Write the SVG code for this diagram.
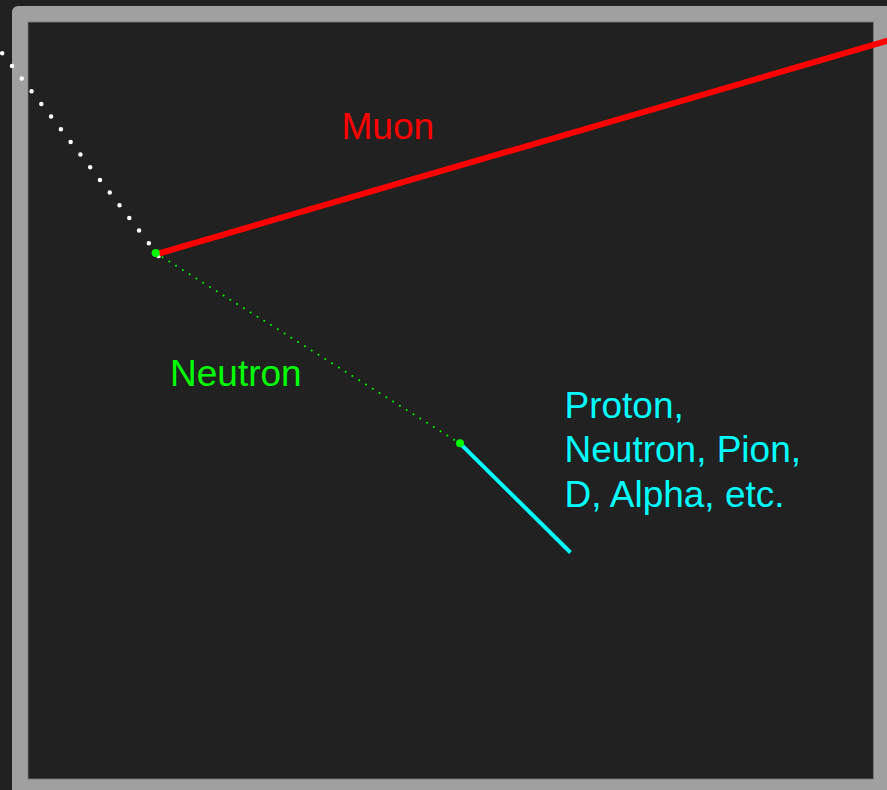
<svg xmlns="http://www.w3.org/2000/svg" width="887" height="790" viewBox="0 0 887 790">
  <style>
    .lbl { font-family: "Liberation Sans", Arial, sans-serif; font-size: 37px; }
    .dot { stroke-linecap: round; fill: none; }
  </style>
  <rect x="0" y="0" width="887" height="790" fill="#212121"/>
  <g id="frame">
    <rect x="12" y="6" width="880" height="795" rx="6" fill="#a0a0a0"/>
    <rect x="28" y="22" width="845.5" height="757" fill="#212121" stroke="#7a7a7a" stroke-width="0.8"/>
  </g>
  <g id="connectors">
    <path d="M158.6,255.9 L-40,-1.5" class="dot" stroke="#ffffff" stroke-width="4.5" stroke-dasharray="0 16"/>
    <path d="M155.7,253 L460,443.3" class="dot" stroke="#00ff00" stroke-width="2" stroke-dasharray="0 8"/>
    <line x1="159" y1="253.5" x2="895" y2="38.5" stroke="#ff0000" stroke-width="6"/>
    <line x1="460" y1="443.3" x2="570.5" y2="552.5" stroke="#00ffff" stroke-width="4"/>
  </g>
  <g id="vertex1">
    <circle cx="155.7" cy="253" r="4" fill="#00ff00"/>
  </g>
  <g id="vertex2">
    <circle cx="460" cy="443.3" r="4" fill="#00ff00"/>
  </g>
  <g id="muon-label">
    <text x="341.5" y="138.7" class="lbl" fill="#ff0000">Muon</text>
  </g>
  <g id="neutron-label">
    <text x="170" y="385.7" class="lbl" fill="#00ff00">Neutron</text>
  </g>
  <g id="products-label">
    <text class="lbl" fill="#00ffff">
      <tspan x="564.5" y="417.7">Proton,</tspan>
      <tspan x="564.5" y="461.9">Neutron, Pion,</tspan>
      <tspan x="564.5" y="506.7">D, Alpha, etc.</tspan>
    </text>
  </g>
</svg>
